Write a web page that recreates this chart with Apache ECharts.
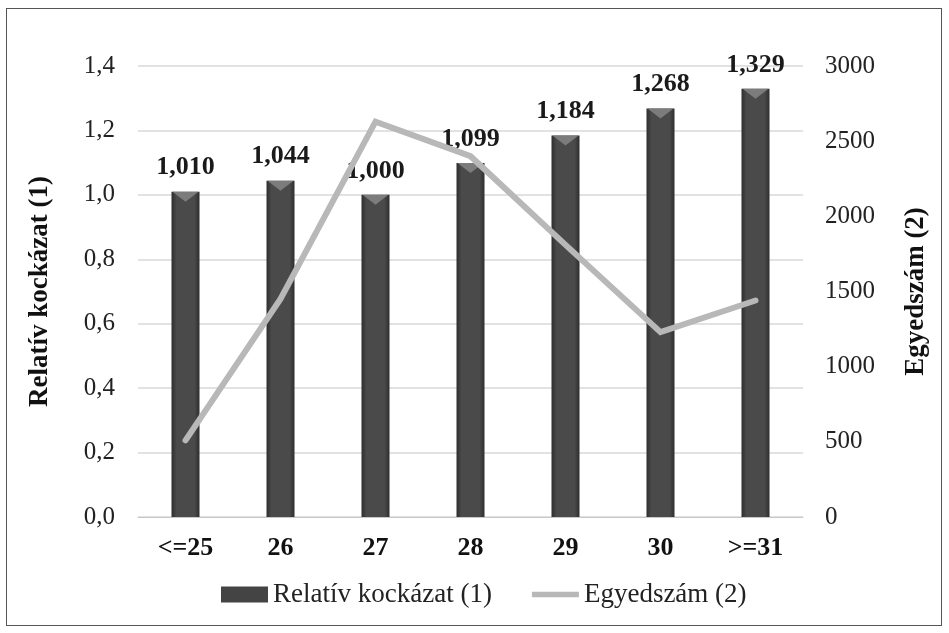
<!DOCTYPE html>
<html>
<head>
<meta charset="utf-8">
<script src="https://cdn.jsdelivr.net/npm/echarts@6/dist/echarts.min.js"></script>
<style>
  html, body { margin: 0; padding: 0; background: #ffffff; }
  #frame { position: absolute; left: 6px; top: 8px; width: 936px; height: 618px; border: 1px solid #555; box-sizing: border-box; }
  #chart { position: absolute; left: 0; top: 0; width: 949px; height: 633px; }
</style>
</head>
<body>
<div id="frame"></div>
<div id="chart"></div>
<script>
// Age groups on the x axis
const categories = ['<=25', '26', '27', '28', '29', '30', '>=31'];
// Relative risk per age group (left axis)
const relativeRisk = [1.010, 1.044, 1.000, 1.099, 1.184, 1.268, 1.329];
// Number of individuals per age group (right axis)
const counts = [510, 1450, 2630, 2400, 1810, 1230, 1440];

const serif = 'Liberation Serif';
const comma = v => v.toFixed(1).replace('.', ',');

const chart = echarts.init(document.getElementById('chart'), null, { renderer: 'canvas' });

const barFill = new echarts.graphic.LinearGradient(0, 0, 1, 0, [
  { offset: 0, color: '#2e2e2e' },
  { offset: 0.18, color: '#4a4a4a' },
  { offset: 0.82, color: '#4a4a4a' },
  { offset: 1, color: '#2e2e2e' }
]);

const legendText = { fontFamily: serif, fontSize: 27, fontWeight: 'normal', color: '#222' };

chart.setOption({
  animation: false,
  backgroundColor: 'transparent',
  textStyle: { fontFamily: serif },
  grid: { left: 138, right: 146, top: 66, bottom: 116, containLabel: false },
  legend: {
    top: 576,
    left: 216,
    itemGap: 40,
    itemWidth: 47,
    itemHeight: 16,
    textStyle: legendText,
    data: [
      { name: 'Relatív kockázat (1)', icon: 'rect', itemStyle: { color: '#444' }, textStyle: legendText },
      { name: 'Egyedszám (2)', icon: 'path://M0,4 L50,4 L50,10 L0,10 Z', itemStyle: { color: '#b8b8b8' }, textStyle: legendText }
    ]
  },
  xAxis: {
    type: 'category',
    data: categories,
    axisLine: { show: true, lineStyle: { color: '#c8c8c8', width: 1 } },
    axisTick: { show: false },
    axisLabel: { fontFamily: serif, fontSize: 26, fontWeight: 'bold', color: '#111', margin: 18 }
  },
  yAxis: [
    {
      type: 'value',
      min: 0, max: 1.4, interval: 0.2,
      name: 'Relatív kockázat (1)',
      nameLocation: 'middle',
      nameGap: 84,
      nameTextStyle: { fontFamily: serif, fontSize: 27, fontWeight: 'bold', color: '#111' },
      axisLine: { show: false },
      axisTick: { show: false },
      splitLine: { lineStyle: { color: '#d9d9d9', width: 1.5 } },
      axisLabel: { fontFamily: serif, fontSize: 25, color: '#222', margin: 23, formatter: comma }
    },
    {
      type: 'value',
      min: 0, max: 3000, interval: 500,
      name: 'Egyedszám (2)',
      nameLocation: 'middle',
      nameGap: 100,
      nameRotate: 90,
      nameTextStyle: { fontFamily: serif, fontSize: 27, fontWeight: 'bold', color: '#111' },
      axisLine: { show: false },
      axisTick: { show: false },
      splitLine: { show: false },
      axisLabel: { fontFamily: serif, fontSize: 25, color: '#222', margin: 22, formatter: v => String(v) }
    }
  ],
  series: [
    {
      name: 'Relatív kockázat (1)',
      type: 'bar',
      yAxisIndex: 0,
      data: relativeRisk,
      barWidth: 28,
      itemStyle: { color: barFill },
      label: {
        show: true,
        position: 'top',
        distance: 11,
        fontFamily: serif,
        fontSize: 26,
        fontWeight: 'bold',
        color: '#1a1a1a',
        formatter: p => p.value.toFixed(3).replace('.', ',')
      },
      z: 2
    },
    {
      // bevelled highlight on the top of each bar
      name: 'bevel',
      type: 'pictorialBar',
      yAxisIndex: 0,
      data: relativeRisk,
      symbol: 'path://M0,0 L28,0 L14,10 Z',
      symbolSize: [26, 10],
      symbolPosition: 'end',
      symbolOffset: [0, 0],
      itemStyle: { color: '#7c7c7c' },
      silent: true,
      legendHoverLink: false,
      z: 3
    },
    {
      name: 'Egyedszám (2)',
      type: 'line',
      yAxisIndex: 1,
      data: counts,
      symbol: 'none',
      lineStyle: { color: '#b8b8b8', width: 6, cap: 'round', join: 'miter' },
      itemStyle: { color: '#b8b8b8' },
      z: 4
    }
  ]
});
</script>
</body>
</html>
